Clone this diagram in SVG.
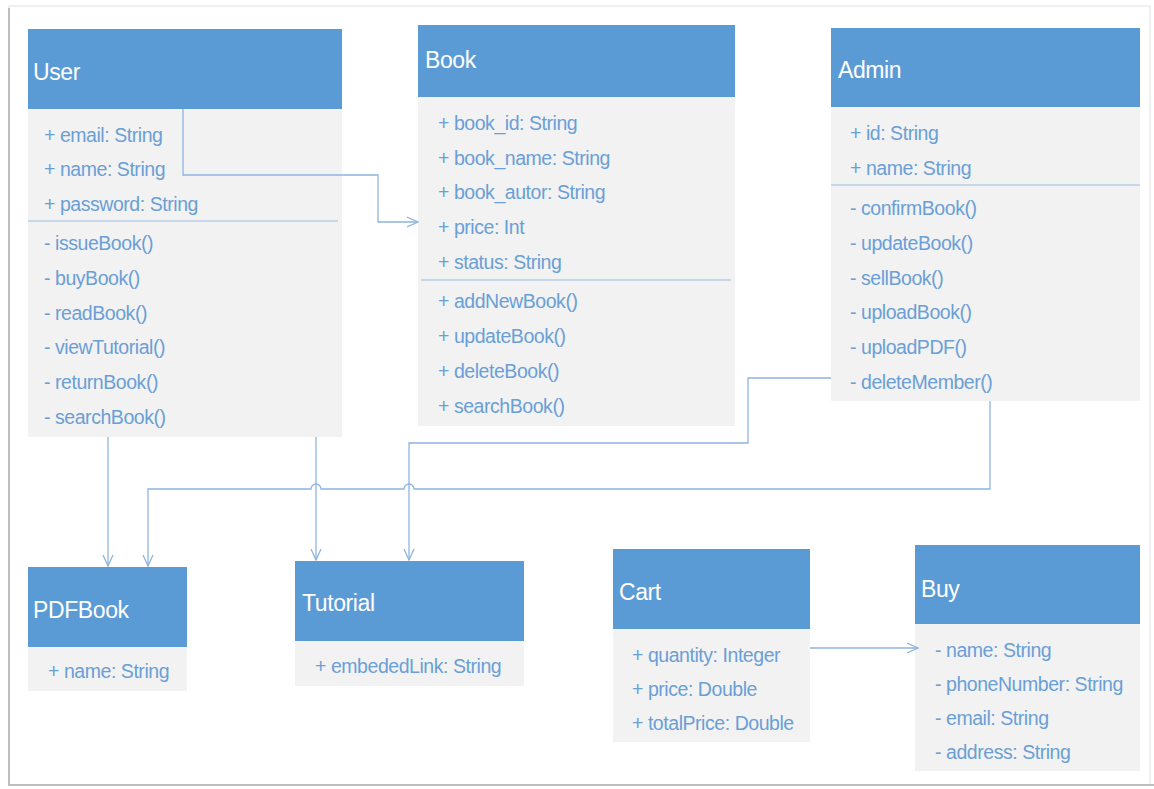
<svg xmlns="http://www.w3.org/2000/svg" width="1154" height="789" viewBox="0 0 1154 789">
<style>
.hdr{fill:#5b9bd5}
.body{fill:#f2f2f2}
.title{font-family:"Liberation Sans",Arial,sans-serif;font-size:23px;letter-spacing:-0.4px;fill:#ffffff}
.t{font-family:"Liberation Sans",Arial,sans-serif;font-size:19.5px;letter-spacing:-0.45px;fill:#6a9fd6}
.sep{stroke:#9dbde3;stroke-width:1}
.conn{fill:none;stroke:#8fb4df;stroke-width:1.3}
</style>
<defs>
<marker id="arr" viewBox="0 0 12 12" refX="11" refY="6" markerWidth="12" markerHeight="12" markerUnits="userSpaceOnUse" orient="auto">
<path d="M0,1 L11,6 L0,11" fill="none" stroke="#8fb4df" stroke-width="1.3"/>
</marker>
</defs>
<rect x="0" y="0" width="1154" height="789" fill="#ffffff"/>
<rect x="9" y="6" width="1141" height="779" fill="#ffffff" stroke="#ececec" stroke-width="1.5"/>
<path d="M9,8 L9,785 L1154,785" fill="none" stroke="#bdbdbd" stroke-width="2"/>

<g id="User">
<rect class="body" x="28" y="109" width="314" height="328"/>
<rect class="hdr" x="28" y="29" width="314" height="80"/>
<text class="title" x="33" y="80">User</text>
<text class="t" x="44" y="142">+ email: String</text>
<text class="t" x="44" y="176">+ name: String</text>
<text class="t" x="44" y="211">+ password: String</text>
<line class="sep" x1="28" y1="221" x2="338" y2="221"/>
<text class="t" x="44" y="250">- issueBook()</text>
<text class="t" x="44" y="285">- buyBook()</text>
<text class="t" x="44" y="320">- readBook()</text>
<text class="t" x="44" y="354">- viewTutorial()</text>
<text class="t" x="44" y="389">- returnBook()</text>
<text class="t" x="44" y="424">- searchBook()</text>
</g>

<g id="Book">
<rect class="body" x="418" y="97" width="317" height="329"/>
<rect class="hdr" x="418" y="25" width="317" height="72"/>
<text class="title" x="425" y="68">Book</text>
<text class="t" x="438" y="130">+ book_id: String</text>
<text class="t" x="438" y="165">+ book_name: String</text>
<text class="t" x="438" y="199">+ book_autor: String</text>
<text class="t" x="438" y="234">+ price: Int</text>
<text class="t" x="438" y="269">+ status: String</text>
<line class="sep" x1="421" y1="280" x2="731" y2="280"/>
<text class="t" x="438" y="308">+ addNewBook()</text>
<text class="t" x="438" y="343">+ updateBook()</text>
<text class="t" x="438" y="378">+ deleteBook()</text>
<text class="t" x="438" y="413">+ searchBook()</text>
</g>

<g id="Admin">
<rect class="body" x="831" y="107" width="309" height="294"/>
<rect class="hdr" x="831" y="28" width="309" height="79"/>
<text class="title" x="838" y="78">Admin</text>
<text class="t" x="850" y="140">+ id: String</text>
<text class="t" x="850" y="175">+ name: String</text>
<line class="sep" x1="831" y1="185" x2="1140" y2="185"/>
<text class="t" x="850" y="215">- confirmBook()</text>
<text class="t" x="850" y="250">- updateBook()</text>
<text class="t" x="850" y="285">- sellBook()</text>
<text class="t" x="850" y="319">- uploadBook()</text>
<text class="t" x="850" y="354">- uploadPDF()</text>
<text class="t" x="850" y="389">- deleteMember()</text>
</g>

<g id="PDFBook">
<rect class="body" x="28" y="647" width="159" height="44"/>
<rect class="hdr" x="28" y="567" width="159" height="80"/>
<text class="title" x="33" y="618">PDFBook</text>
<text class="t" x="48" y="678">+ name: String</text>
</g>

<g id="Tutorial">
<rect class="body" x="295" y="641" width="229" height="45"/>
<rect class="hdr" x="295" y="561" width="229" height="80"/>
<text class="title" x="302" y="611">Tutorial</text>
<text class="t" x="315" y="673">+ embededLink: String</text>
</g>

<g id="Cart">
<rect class="body" x="613" y="629" width="197" height="113"/>
<rect class="hdr" x="613" y="549" width="197" height="80"/>
<text class="title" x="619" y="600">Cart</text>
<text class="t" x="632" y="662">+ quantity: Integer</text>
<text class="t" x="632" y="696">+ price: Double</text>
<text class="t" x="632" y="730">+ totalPrice: Double</text>
</g>

<g id="Buy">
<rect class="body" x="915" y="624" width="225" height="147"/>
<rect class="hdr" x="915" y="545" width="225" height="79"/>
<text class="title" x="921" y="597">Buy</text>
<text class="t" x="935" y="657">- name: String</text>
<text class="t" x="935" y="691">- phoneNumber: String</text>
<text class="t" x="935" y="725">- email: String</text>
<text class="t" x="935" y="759">- address: String</text>
</g>

<g id="connectors">
<path class="conn" d="M183,109 L183,175 L378,175 L378,222 L418,222" marker-end="url(#arr)"/>
<path class="conn" d="M108,437 L108,566" marker-end="url(#arr)"/>
<path class="conn" d="M316,437 L316,560" marker-end="url(#arr)"/>
<path class="conn" d="M990,401 L990,489 L414,489 A5,5 0 0 0 404,489 L321,489 A5,5 0 0 0 311,489 L148,489 L148,566" marker-end="url(#arr)"/>
<path class="conn" d="M831,378 L748,378 L748,443 L409,443 L409,560" marker-end="url(#arr)"/>
<path class="conn" d="M810,648 L918,648" marker-end="url(#arr)"/>
</g>
</svg>
